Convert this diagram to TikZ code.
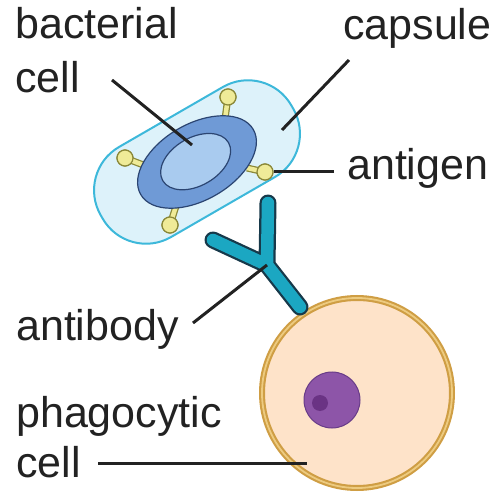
\documentclass[tikz,border=0pt]{standalone}
\usepackage{fontspec}
\setmainfont{Liberation Sans}
\usepackage{tikz}
\usetikzlibrary{calc}
\definecolor{capsulefill}{HTML}{DDF2FA}
\definecolor{capsuleline}{HTML}{3DB8DA}
\definecolor{ringfill}{HTML}{6F9AD6}
\definecolor{corefill}{HTML}{A9CBEF}
\definecolor{membrane}{HTML}{2B4572}
\definecolor{antigenfill}{HTML}{EFEB98}
\definecolor{antigenline}{HTML}{8A8838}
\definecolor{abfill}{HTML}{1BA7C2}
\definecolor{abline}{HTML}{17394A}
\definecolor{cytoplasm}{HTML}{FEE3C9}
\definecolor{cellwall}{HTML}{CF9E44}
\definecolor{cellwalllight}{HTML}{EDCB80}
\definecolor{nucleusfill}{HTML}{8D55A8}
\definecolor{nucleusline}{HTML}{683C88}
\definecolor{nucleolus}{HTML}{6A3384}
\definecolor{labeltext}{HTML}{222222}
\tikzset{
	label text/.style={font=\fontsize{43}{43}\selectfont, text=labeltext, inner sep=0pt, anchor=base west},
	leader/.style={line width=3pt, labeltext},
	antigen ball/.style={circle, fill=antigenfill, draw=antigenline, line width=1.2pt, minimum size=16pt, inner sep=0pt},
	stalk outer/.style={line width=7pt, antigenline},
	stalk inner/.style={line width=4.5pt, antigenfill},
}
\begin{document}
\begin{tikzpicture}[x=1pt,y=1pt]
	\useasboundingbox (0,0) rectangle (496,491);
	% bacterium: capsule, cell wall ring and cytoplasm
	\draw[fill=capsulefill, draw=capsuleline, line width=2pt, rounded corners=50, rotate around={30:(197,329)}] (87,277) rectangle (307,381);
	\coordinate (bact) at (197,329);
	% antigen stalks go under the ring
	\coordinate (ag1base) at (225,372);
	\coordinate (ag2base) at (146,325);
	\coordinate (ag3base) at (247,323);
	\coordinate (ag4base) at (177,288);
	\node[antigen ball] (ag1) at (228,394) {};
	\node[antigen ball] (ag2) at (125,333) {};
	\node[antigen ball] (ag3) at (265,319) {};
	\node[antigen ball] (ag4) at (170,266) {};
	\foreach \i in {1,...,4}{
		\draw[stalk outer] (ag\i base) -- (ag\i.center);
		\draw[stalk inner] (ag\i base) -- (ag\i.center);
	}
	\foreach \i in {1,...,4}
		\node[antigen ball] at (ag\i) {};
	\draw[fill=ringfill, draw=membrane, line width=1.2pt, rotate around={30:(bact)}] (bact) ellipse (65 and 38);
	\draw[fill=corefill, draw=membrane, line width=1.2pt, rotate around={30:(bact)}] (196,330) ellipse (38 and 24);

	% phagocyte with nucleus
	\coordinate (phago) at (357,98);
	\fill[cytoplasm] (phago) circle (95);
	\draw[cellwall, line width=6pt] (phago) circle (95);
	\draw[cellwalllight, line width=1.8pt] (phago) circle (95);
	\draw[fill=nucleusfill, draw=nucleusline, line width=1pt] (332,91) circle (28);
	\fill[nucleolus] (320,88) circle (8);

	% antibody bound between them
	\coordinate (abarm1) at (268,288);
	\coordinate (abarm2) at (213,251);
	\coordinate (abjoin) at (267,226);
	\coordinate (abstem) at (300,184);
	\draw[abline, line width=17pt, line cap=round, line join=round] (abarm1) -- (abjoin) -- (abstem) (abarm2) -- (abjoin);
	\draw[abfill, line width=12.5pt, line cap=round, line join=round] (abarm1) -- (abjoin) -- (abstem) (abarm2) -- (abjoin);

	% labels
	\node[label text] (bactlbl) at (15,452) {bacterial};
	\node[label text] (bactlbl2) at (15,398) {cell};
	\node[label text] (capslbl) at (343,451) {capsule};
	\node[label text] (aglbl) at (347,311) {antigen};
	\node[label text] (ablbl) at (16,151) {antibody};
	\node[label text] (phagolbl) at (16,64) {phagocytic};
	\node[label text] (phagolbl2) at (16,14) {cell};

	% leader lines
	\coordinate (bactend) at (112,411);
	\coordinate (bactpt) at (192,346);
	\coordinate (capsend) at (349,431);
	\coordinate (capspt) at (282,361);
	\coordinate (agend) at (334,319);
	\coordinate (abend) at (193,168);
	\coordinate (phagoend) at (98,28);
	\coordinate (phagopt) at (307,28);
	\draw[leader] (bactend) -- (bactpt);
	\draw[leader] (capsend) -- (capspt);
	\draw[leader] (agend) -- (ag3);
	\draw[leader] (abend) -- (abjoin);
	\draw[leader] (phagoend) -- (phagopt);
\end{tikzpicture}
\end{document}
